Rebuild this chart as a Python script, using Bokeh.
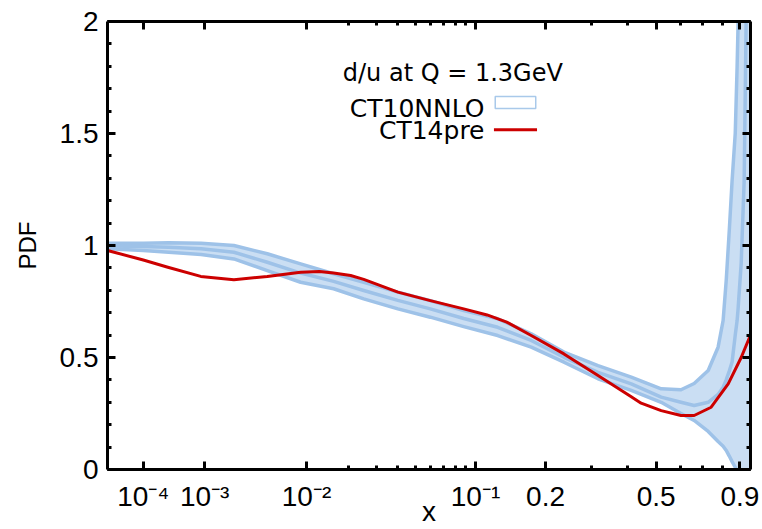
import numpy as np
from bokeh.plotting import figure
from bokeh.models import Range1d, FixedTicker, LinearAxis, Label
from bokeh.embed import file_html
from bokeh.resources import INLINE

# ---------------- data ----------------
# CT10NNLO error band: upper edge, central value, lower edge
X_BAND = [1.1e-5, 1e-4, 3e-4, 9e-4, 2.2e-3, 4.7e-3, 9e-3, 0.0158, 0.025, 0.040,
          0.060, 0.088, 0.126, 0.175, 0.236, 0.316, 0.413, 0.519, 0.600, 0.659,
          0.727, 0.778, 0.805, 0.822, 0.839, 0.855, 0.873, 0.884, 0.890, 0.908,
          0.926, 0.938, 0.965]
BAND_UP = [1.010, 1.010, 1.012, 1.010, 1.000, 0.963, 0.918, 0.874, 0.836, 0.792,
           0.754, 0.710, 0.673, 0.606, 0.524, 0.464, 0.412, 0.360, 0.356, 0.384,
           0.442, 0.546, 0.665, 0.844, 1.067, 1.290, 1.500, 1.800, 2.000, 2.500,
           3.000, 3.400, 4.200]
BAND_MID = [0.998, 0.995, 0.992, 0.985, 0.970, 0.925, 0.877, 0.840, 0.799, 0.755,
            0.717, 0.674, 0.635, 0.576, 0.501, 0.434, 0.382, 0.323, 0.300, 0.286,
            0.300, 0.335, 0.367, 0.400, 0.440, 0.480, 0.600, 0.665, 0.720, 0.920,
            1.290, 2.000, 3.500]
BAND_LO = [0.985, 0.978, 0.970, 0.960, 0.940, 0.888, 0.836, 0.807, 0.762, 0.717,
           0.680, 0.638, 0.598, 0.546, 0.479, 0.405, 0.353, 0.300, 0.250, 0.219,
           0.170, 0.125, 0.104, 0.085, 0.060, 0.035, 0.010, -0.010, -0.020, -0.060,
           -0.100, -0.130, -0.200]

# CT14pre
X_RED = [1.1e-5, 1e-4, 2.9e-4, 8.9e-4, 2.2e-3, 4.7e-3, 9e-3, 0.0125, 0.0158, 0.0206,
         0.025, 0.040, 0.060, 0.088, 0.113, 0.138, 0.175, 0.236, 0.316, 0.413,
         0.446, 0.519, 0.600, 0.659, 0.742, 0.833, 0.908, 0.965]
Y_RED = [0.978, 0.935, 0.903, 0.862, 0.847, 0.862, 0.881, 0.884, 0.877, 0.866,
         0.849, 0.792, 0.754, 0.717, 0.690, 0.658, 0.598, 0.516, 0.420, 0.325,
         0.296, 0.263, 0.241, 0.241, 0.278, 0.382, 0.500, 0.600]

X_MAJOR = [1e-4, 1e-3, 1e-2, 0.1, 0.2, 0.5, 0.9]
X_MAJOR_LABELS = ["10\u207b\u2074", "10\u207b\u00b3", "10\u207b\u00b2", "10\u207b\u00b9", "0.2", "0.5", "0.9"]
X_MINOR = [0.02, 0.03, 0.04, 0.05, 0.06, 0.07, 0.08, 0.09, 0.3, 0.4, 0.6, 0.7, 0.8]
Y_MAJOR = [0.0, 0.5, 1.0, 1.5, 2.0]
Y_MAJOR_LABELS = ["0", "0.5", "1", "1.5", "2"]
Y_MINOR = [round(0.1 * i, 1) for i in range(21)]

TITLE = "d/u at Q =  1.3GeV"
NAME_BAND = "CT10NNLO"
NAME_RED = "CT14pre"
X_TITLE = "x"
Y_TITLE = "PDF"

X_MIN, X_MAX = 1.1e-5, 0.965
Y_MIN, Y_MAX = 0.0, 2.0

# ---------------- x scale: x**0.22 ----------------
POW = 0.22


def tx(x):
    return np.asarray(x, dtype=float) ** POW


T_MIN, T_MAX = float(tx(X_MIN)), float(tx(X_MAX))


def fx(frac):  # horizontal position as a fraction of the frame
    return T_MIN + frac * (T_MAX - T_MIN)


FONT = "Liberation Sans"
KEY_FONT = "DejaVu Sans"
BLUE_LINE = "#9ec2e8"
BLUE_FILL = "#cadef3"
RED = "#cc0000"

p = figure(width=762, height=529, output_backend="svg", toolbar_location=None,
           x_range=Range1d(T_MIN, T_MAX), y_range=Range1d(Y_MIN, Y_MAX),
           min_border_left=107, min_border_right=12, min_border_top=21, min_border_bottom=60)
p.grid.visible = False
p.outline_line_color = None
p.background_fill_color = "white"
p.border_fill_color = "white"

xt = tx(X_MAJOR).tolist()
xm = tx(X_MINOR).tolist()


def style_axis(ax, ticker):
    ax.ticker = ticker
    ax.axis_line_color = "black"
    ax.axis_line_width = 3
    ax.major_tick_in = 8
    ax.major_tick_out = 0
    ax.minor_tick_in = 4
    ax.minor_tick_out = 0
    ax.major_tick_line_width = 3
    ax.minor_tick_line_width = 3
    ax.major_tick_line_color = "black"
    ax.minor_tick_line_color = "black"
    ax.major_label_text_font = FONT
    ax.major_label_text_font_size = "28px"
    ax.major_label_text_color = "black"


xa = p.xaxis[0]
style_axis(xa, FixedTicker(ticks=xt, minor_ticks=xm))
xa.major_label_overrides = {t: s for t, s in zip(xt, X_MAJOR_LABELS)}
xa.major_label_standoff = 11
xa.axis_label = X_TITLE
xa.axis_label_text_font = FONT
xa.axis_label_text_font_size = "28px"
xa.axis_label_text_font_style = "normal"
xa.axis_label_text_color = "black"
xa.axis_label_standoff = -19

ya = p.yaxis[0]
style_axis(ya, FixedTicker(ticks=Y_MAJOR, minor_ticks=Y_MINOR))
ya.major_label_overrides = {t: s for t, s in zip(Y_MAJOR, Y_MAJOR_LABELS)}
ya.major_label_standoff = 9
ya.axis_label = Y_TITLE
ya.axis_label_text_font = FONT
ya.axis_label_text_font_size = "24px"
ya.axis_label_text_font_style = "normal"
ya.axis_label_text_color = "black"
ya.axis_label_standoff = 16

# mirrored ticks on the top and right edges (no labels)
top = LinearAxis()
style_axis(top, FixedTicker(ticks=xt, minor_ticks=xm))
top.major_label_overrides = {t: "" for t in xt}
top.major_label_standoff = 0
p.add_layout(top, "above")

right = LinearAxis()
style_axis(right, FixedTicker(ticks=Y_MAJOR, minor_ticks=Y_MINOR))
right.major_label_overrides = {t: "" for t in Y_MAJOR}
right.major_label_standoff = 0
p.add_layout(right, "right")

# ---------------- band and curves ----------------
tb = tx(X_BAND)
p.varea(x=tb, y1=BAND_LO, y2=BAND_UP, fill_color=BLUE_FILL, fill_alpha=1.0)
for ys in (BAND_UP, BAND_MID, BAND_LO):
    p.line(tb, ys, line_color=BLUE_LINE, line_width=3.5, line_join="round")
p.line(tx(X_RED), Y_RED, line_color=RED, line_width=3, line_join="round")

# ---------------- key ----------------
p.add_layout(Label(x=fx(0.543), y=1.768, text=TITLE, text_font=KEY_FONT, text_font_size="24px",
                   text_align="center", text_baseline="alphabetic", text_color="black"))
p.add_layout(Label(x=fx(0.5863), y=1.610, text=NAME_BAND, text_font=KEY_FONT, text_font_size="25px",
                   text_align="right", text_baseline="alphabetic", text_color="black"))
p.add_layout(Label(x=fx(0.5863), y=1.513, text=NAME_RED, text_font=KEY_FONT, text_font_size="25px",
                   text_align="right", text_baseline="alphabetic", text_color="black"))
p.quad(left=[fx(0.603)], right=[fx(0.666)], bottom=[1.612], top=[1.665],
       fill_color="white", line_color="#a9c9ea", line_width=1.5)
p.line([fx(0.601), fx(0.668)], [1.5165, 1.5165], line_color=RED, line_width=3)

open("out.html", "w").write(file_html(p, INLINE))
